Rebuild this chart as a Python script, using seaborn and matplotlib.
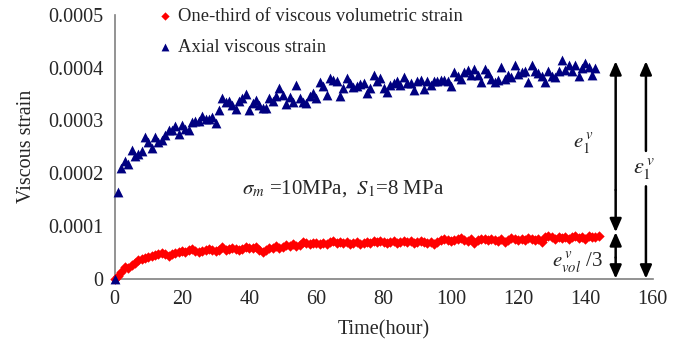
import numpy as np
import pandas as pd
import matplotlib
matplotlib.use("Agg")
import matplotlib.pyplot as plt
import seaborn as sns

# ---- data ----
time_vol = list(range(0, 145))
vol_third = [
    0, 0.000005, 0.000012, 0.000022, 0.000021, 0.000026, 0.000030, 0.000035, 0.000038, 0.000039,
    0.000041, 0.000042, 0.000044, 0.000046, 0.000048, 0.000046, 0.000043, 0.000047, 0.000049, 0.000051,
    0.000052, 0.000051, 0.000054, 0.000056, 0.000053, 0.000050, 0.000053, 0.000055, 0.000057, 0.000055,
    0.000052, 0.000054, 0.000060, 0.000054, 0.000056, 0.000058, 0.000057, 0.000055, 0.000057, 0.000060,
    0.000059, 0.000058, 0.000060, 0.000055, 0.000050, 0.000054, 0.000058, 0.000059, 0.000061, 0.000058,
    0.000060, 0.000063, 0.000061, 0.000066, 0.000061, 0.000064, 0.000070, 0.000068, 0.000066, 0.000068,
    0.000067, 0.000065, 0.000068, 0.000066, 0.000069, 0.000072, 0.000068, 0.000070, 0.000067, 0.000069,
    0.000066, 0.000068, 0.000070, 0.000065, 0.000068, 0.000070, 0.000068, 0.000071, 0.000069, 0.000072,
    0.000070, 0.000067, 0.000069, 0.000071, 0.000068, 0.000070, 0.000072, 0.000069, 0.000071, 0.000068,
    0.000070, 0.000072, 0.000069, 0.000067, 0.000070, 0.000065, 0.000070, 0.000073, 0.000076, 0.000074,
    0.000071, 0.000074, 0.000076, 0.000077, 0.000074, 0.000072, 0.000075, 0.000068, 0.000073, 0.000075,
    0.000076, 0.000073, 0.000075, 0.000074, 0.000072, 0.000076, 0.000069, 0.000074, 0.000077, 0.000075,
    0.000073, 0.000076, 0.000074, 0.000077, 0.000075, 0.000073, 0.000076, 0.000070, 0.000078, 0.000080,
    0.000078, 0.000076, 0.000079, 0.000077, 0.000079, 0.000075, 0.000078, 0.000080, 0.000077, 0.000079,
    0.000076, 0.000080, 0.000078, 0.000079, 0.000080,
]

time_axial = list(range(0, 144))
axial = [
    0.0, 0.000165, 0.000209, 0.000222, 0.000218, 0.000244, 0.000232, 0.000237, 0.000242, 0.000268,
    0.000259, 0.000247, 0.000268, 0.000258, 0.000263, 0.000272, 0.000282, 0.000282, 0.000289, 0.000275,
    0.000291, 0.000283, 0.000282, 0.000297, 0.000298, 0.000298, 0.000309, 0.000302, 0.000303, 0.000306,
    0.000294, 0.000320, 0.000342, 0.000335, 0.000337, 0.000330, 0.000322, 0.000337, 0.000342, 0.000350,
    0.000320, 0.000333, 0.000338, 0.000329, 0.000323, 0.000323, 0.000342, 0.000337, 0.000346, 0.000361,
    0.000348, 0.000331, 0.000345, 0.000334, 0.000367, 0.000342, 0.000335, 0.000333, 0.000346, 0.000352,
    0.000342, 0.000372, 0.000365, 0.000348, 0.000380, 0.000376, 0.000374, 0.000346, 0.000361, 0.000380,
    0.000370, 0.000364, 0.000365, 0.000369, 0.000370, 0.000351, 0.000362, 0.000386, 0.000375, 0.000381,
    0.000361, 0.000354, 0.000367, 0.000371, 0.000374, 0.000367, 0.000383, 0.000371, 0.000370, 0.000357,
    0.000374, 0.000376, 0.000359, 0.000374, 0.000367, 0.000374, 0.000375, 0.000376, 0.000376, 0.000374,
    0.000365, 0.000392, 0.000384, 0.000378, 0.000392, 0.000396, 0.000386, 0.000398, 0.000386, 0.000373,
    0.000398, 0.000389, 0.000378, 0.000373, 0.000376, 0.000401, 0.000378, 0.000386, 0.000383, 0.000405,
    0.000388, 0.000392, 0.000394, 0.000373, 0.000405, 0.000394, 0.000389, 0.000384, 0.000373, 0.000394,
    0.000384, 0.000382, 0.000394, 0.000414, 0.000396, 0.000405, 0.000394, 0.000405, 0.000384, 0.000400,
    0.000408, 0.000402, 0.000386, 0.000400,
]

x_ticks = [0, 20, 40, 60, 80, 100, 120, 140, 160]
y_ticks = [0, 0.0001, 0.0002, 0.0003, 0.0004, 0.0005]
y_tick_labels = ["0", "0.0001", "0.0002", "0.0003", "0.0004", "0.0005"]

label_vol = "One-third of viscous volumetric strain"
label_axial = "Axial viscous strain"

# ---- style ----
sns.set_style("white")
plt.rcParams["font.family"] = ["Liberation Serif", "DejaVu Serif"]
plt.rcParams["mathtext.fontset"] = "stix"

fig = plt.figure(figsize=(6.87, 3.44), dpi=100)
ax = fig.add_axes([0.167, 0.190, 0.783, 0.767])

df_vol = pd.DataFrame({"t": time_vol, "v": vol_third})
df_ax = pd.DataFrame({"t": time_axial, "v": axial})

sns.scatterplot(data=df_vol, x="t", y="v", marker="D", color="#FF0000", s=28,
                linewidth=0, ax=ax, label=label_vol, clip_on=False, zorder=3)
sns.scatterplot(data=df_ax, x="t", y="v", marker="^", color="#000080", s=50,
                linewidth=0, ax=ax, label=label_axial, clip_on=False, zorder=4)

ax.set_xlim(0, 160)
ax.set_ylim(0, 0.0005)
ax.set_xticks(x_ticks)
ax.set_yticks(y_ticks)
ax.set_yticklabels(y_tick_labels)
ax.tick_params(axis="both", direction="out", length=5, width=1, color="#808080",
               labelsize=14.5, pad=3)

for s in ["top", "right"]:
    ax.spines[s].set_visible(False)
for s in ["left", "bottom"]:
    ax.spines[s].set_color("#808080")
    ax.spines[s].set_linewidth(1.2)

ax.set_xlabel("Time(hour)", fontsize=14.5, labelpad=8)
ax.set_ylabel("Viscous strain", fontsize=14.5, labelpad=9)

leg = ax.legend(loc="upper left", bbox_to_anchor=(0.07, 1.055), frameon=False,
                fontsize=13.4, handlelength=0.6, handletextpad=0.35,
                labelspacing=0.75, markerscale=0.8, borderaxespad=0)

# ---- annotations ----
akw = dict(arrowstyle="-|>,head_length=0.8,head_width=0.35", color="black", lw=1.8,
           shrinkA=0, shrinkB=0)
xa, xb = 149, 158
ytop, ymid = 0.000412, 0.000088
ax.annotate("", xy=(xa, ytop), xytext=(xa, ymid + 0.00008), arrowprops=akw, annotation_clip=False)
ax.annotate("", xy=(xa, ymid), xytext=(xa, ymid + 0.00008), arrowprops=akw, annotation_clip=False)
ax.annotate("", xy=(xa, ymid), xytext=(xa, 0.00004), arrowprops=akw, annotation_clip=False)
ax.annotate("", xy=(xa, 0), xytext=(xa, 0.00004), arrowprops=akw, annotation_clip=False)
ax.annotate("", xy=(xb, ytop), xytext=(xb, 0.000242), arrowprops=akw, annotation_clip=False)
ax.annotate("", xy=(xb, 0), xytext=(xb, 0.000175), arrowprops=akw, annotation_clip=False)

ax.text(139.5, 0.000255, r"$e_1^{\,v}$", fontsize=15, ha="center", va="center")
ax.text(157.5, 0.000208, r"$\varepsilon_1^{\,v}$", fontsize=16, ha="center", va="center")
ax.text(137.5, 0.000030, r"$e_{vol}^{\,v}$ /3", fontsize=15, ha="center", va="center")
ax.text(38, 0.00017, r"$\sigma_m$ =10MPa,  $S_1$=8 MPa", fontsize=15, ha="left", va="center")

fig.savefig("out.png", dpi=100)
